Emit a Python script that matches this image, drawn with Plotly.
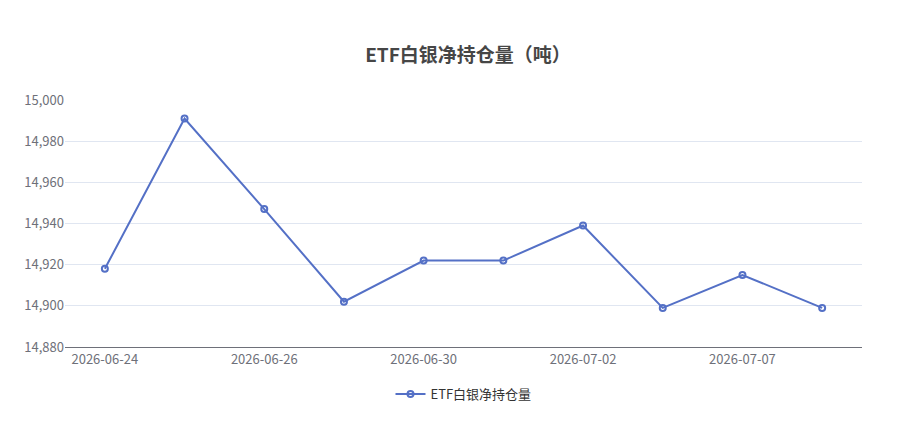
import plotly.graph_objects as go

dates = ["2026-06-24","2026-06-25","2026-06-26","2026-06-29","2026-06-30",
         "2026-07-01","2026-07-02","2026-07-03","2026-07-07","2026-07-08"]
holdings = [14918, 14991, 14947, 14902, 14922, 14922, 14939, 14899, 14915, 14899]
y_ticks = [14880, 14900, 14920, 14940, 14960, 14980, 15000]
series_name = "ETF白银净持仓量"

fig = go.Figure(go.Scatter(
    x=dates, y=holdings, mode="lines+markers", name=series_name,
    line=dict(color="#5470c6", width=2),
    marker=dict(symbol="circle-open", size=6, color="#5470c6", line=dict(width=2)),
))
fig.update_layout(
    width=920, height=425,
    margin=dict(l=57, r=66, t=92, b=86),
    paper_bgcolor="white", plot_bgcolor="white",
    font=dict(family="Noto Sans CJK SC", color="#6e7079", size=13),
    title=dict(text="<b>ETF白银净持仓量（吨）</b>", x=0.5, xanchor="center", y=0.905,
               font=dict(size=19, color="#464646")),
    showlegend=True,
    legend=dict(orientation="h", x=0.5, xanchor="center", y=-0.13, yanchor="top",
                font=dict(size=13, color="#333")),
    xaxis=dict(type="category", range=[-0.5, 9.5], tickvals=[dates[i] for i in (0,2,4,6,8)],
               showline=True, linecolor="#6e7079", showgrid=False, ticks=""),
    yaxis=dict(range=[14880, 15000], tickvals=y_ticks, tickformat=",", showgrid=True,
               gridcolor="#e0e6f1", zeroline=False, showline=False),
    shapes=[dict(type="rect", xref="paper", yref="paper", x0=-0.0753, x1=1.0665,
                 y0=-0.4, y1=1.385, line=dict(color="#e6e6e6", width=1), layer="below")],
)
fig.write_html("out.html")
